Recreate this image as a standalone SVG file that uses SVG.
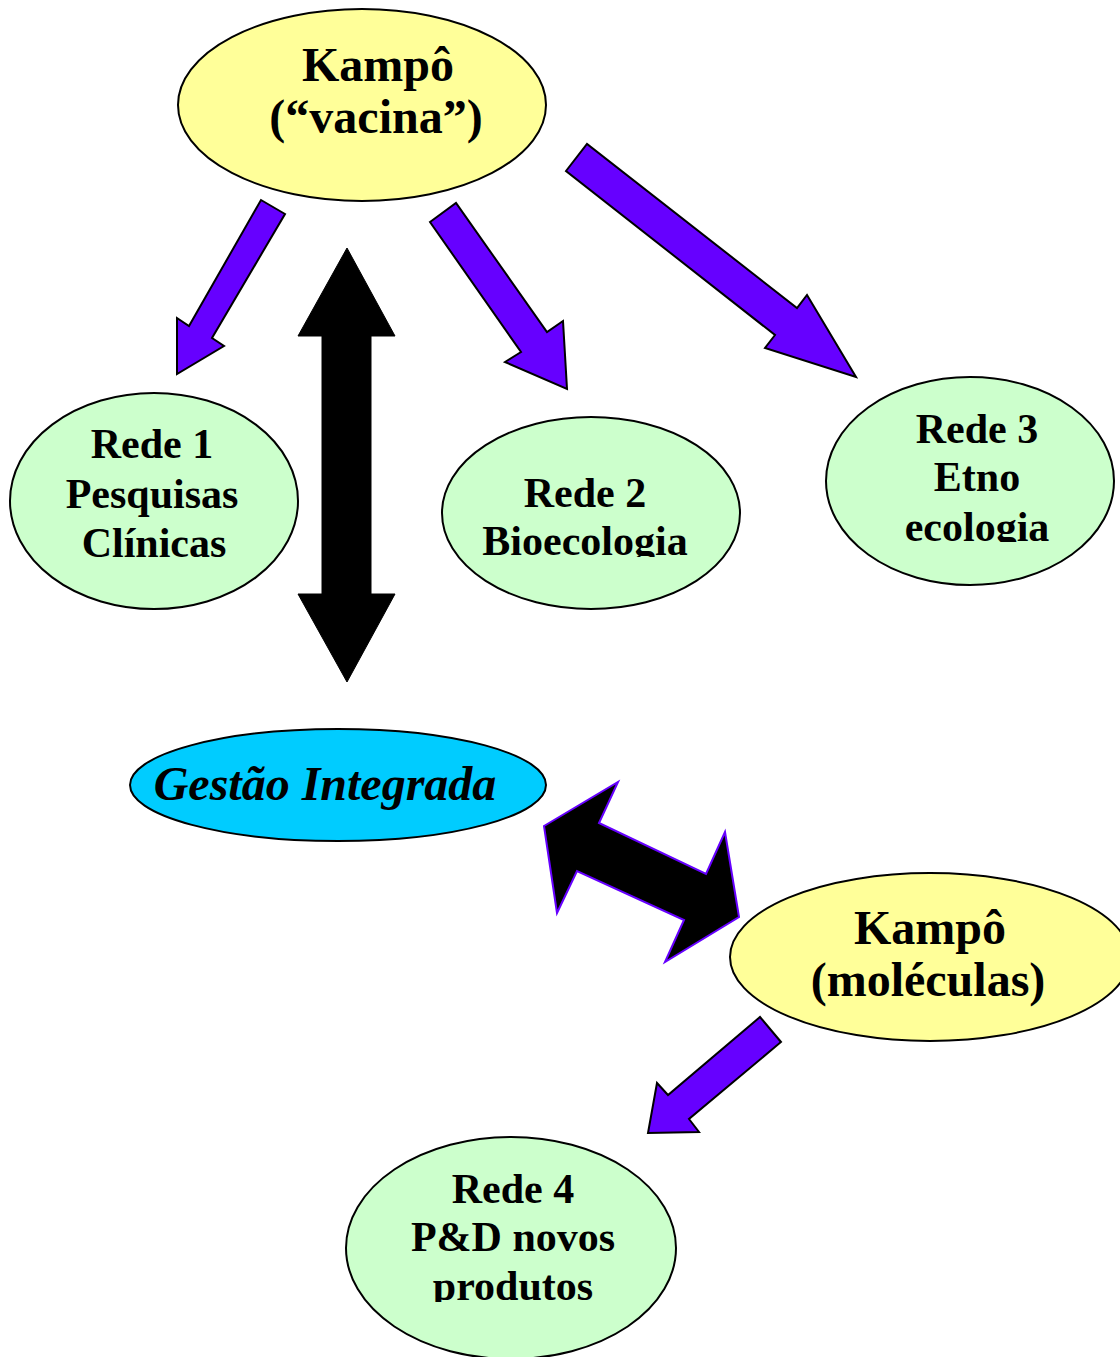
<svg xmlns="http://www.w3.org/2000/svg" width="1120" height="1357" viewBox="0 0 1120 1357">
<style>
.e{stroke:#000;stroke-width:2}
.y{fill:#FFFF99}.g{fill:#CCFFCC}.b{fill:#00CCFF}
.t{font-family:"Liberation Serif","Times New Roman",serif;font-weight:bold;font-size:42px;text-anchor:middle;fill:#000}
.L{font-size:48px}
.i{font-style:italic}
.pa{fill:#6600FF;stroke:#000;stroke-width:2;stroke-linejoin:miter}
.ba{fill:#000;stroke:#000;stroke-width:1}
.bp{fill:#000;stroke:#6600FF;stroke-width:2}
</style>
<defs>
<clipPath id="c2"><rect x="400" y="400" width="400" height="157"/></clipPath>
<clipPath id="c3"><rect x="800" y="360" width="320" height="182"/></clipPath>
<clipPath id="c4"><rect x="330" y="1130" width="360" height="172"/></clipPath>
</defs>
<g id="connectors">
<polygon class="pa" points="261,200 285,214 212,338 224,346 177,374 177,318 189,326"/>
<polygon class="pa" points="430,222 456,203 547,332 563,321 567,389 505,362 521,352"/>
<polygon class="pa" points="566,171 587,144 797,308 807,295 856,377 765,348 775,335"/>
<polygon class="ba" points="347,248 395,336 371,336 371,594 395,594 347,682 298,594 322,594 322,336 298,336"/>
<polygon class="bp" points="544,826 618,782 599,823 706,874 725,832 739,917 665,962 684,920 577,871 557,913"/>
<polygon class="pa" points="760,1017 781,1042 689,1119 699,1132 648,1133 657,1083 668,1095"/>
</g>
<g id="kampo-vacina">
<ellipse class="e y" cx="362" cy="105" rx="184" ry="96"/>
<text class="t L" x="378" y="81">Kampô</text>
<text class="t L" x="376" y="133">(“vacina”)</text>
</g>
<g id="rede1">
<ellipse class="e g" cx="154" cy="501" rx="144" ry="108"/>
<text class="t" x="152" y="458">Rede 1</text>
<text class="t" x="152" y="508">Pesquisas</text>
<text class="t" x="154" y="557">Clínicas</text>
</g>
<g id="rede2">
<ellipse class="e g" cx="591" cy="513" rx="149" ry="96"/>
<g clip-path="url(#c2)">
<text class="t" x="585" y="507">Rede 2</text>
<text class="t" x="585" y="555">Bioecologia</text>
</g>
</g>
<g id="rede3">
<ellipse class="e g" cx="970" cy="481" rx="144" ry="104"/>
<g clip-path="url(#c3)">
<text class="t" x="977" y="443">Rede 3</text>
<text class="t" x="977" y="491">Etno</text>
<text class="t" x="977" y="541">ecologia</text>
</g>
</g>
<g id="gestao">
<ellipse class="e b" cx="338" cy="785" rx="208" ry="56"/>
<text class="t L i" x="325" y="800">Gestão Integrada</text>
</g>
<g id="kampo-moleculas">
<ellipse class="e y" cx="930" cy="957" rx="200" ry="84"/>
<text class="t L" x="930" y="944">Kampô</text>
<text class="t L" x="928" y="996">(moléculas)</text>
</g>
<g id="rede4">
<ellipse class="e g" cx="511" cy="1248" rx="165" ry="111"/>
<g clip-path="url(#c4)">
<text class="t" x="513" y="1203">Rede 4</text>
<text class="t" x="513" y="1251">P&amp;D novos</text>
<text class="t" x="513" y="1300">produtos</text>
</g>
</g>
</svg>
